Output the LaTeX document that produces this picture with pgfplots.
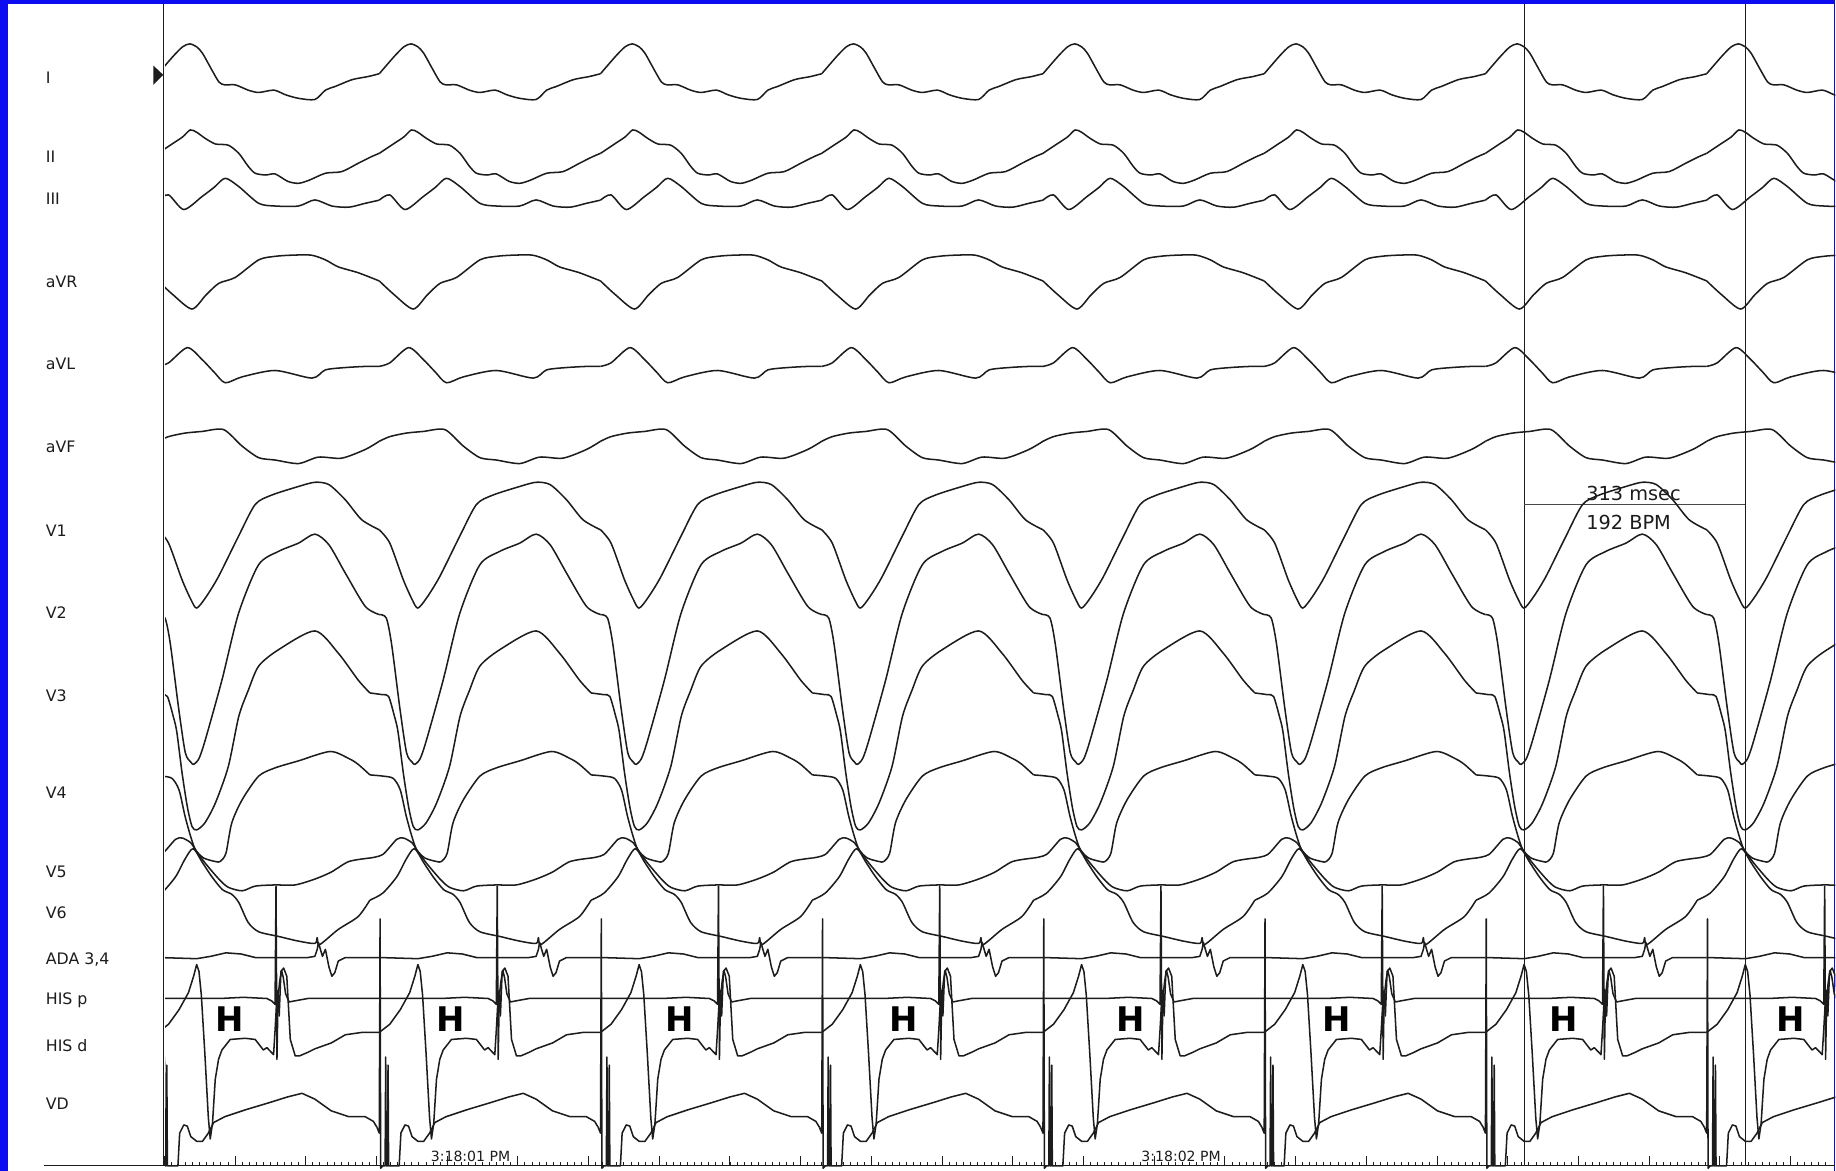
\documentclass[border=0pt]{standalone}
\usepackage{pgfplots}
\pgfplotsset{compat=1.18}
\usepackage{pgfplotstable}
\usepackage{fontspec}
\setmainfont{DejaVu Sans}
\definecolor{frameblue}{RGB}{12,12,240}
\definecolor{ink}{RGB}{28,28,28}
\tikzset{tr/.style={ink, line width=1.3pt, line join=round, mark=none},
         sm/.style={tr, smooth, tension=0.45}}

% one beat of each lead: x = offset (px) from the V1 nadir, y = vertical position (px, downward)
\pgfplotstableread{
x y
-33 63
-20 48
-12 40
-6 37.5
0 40
5 45.5
12 58
19 70
24 72.5
33 72.5
44 77
53 79
66 77
76 81
87 84
101 85
110 77
118 74
133 68
146 65.5
156 63
}\tI
\pgfplotstableread{
x y
-33 131
-21 123
-12 117
-5.5 111
0 113
7 118
16 123
27 124
36 131
44 142
50 148
59 149.5
67 148.6
78 155
87 156.6
96 154
110 148
124 146.6
138 139.5
149 134
156 131
}\tII
\pgfplotstableread{
x y
-33 171
-24 166.5
-11 179
4.5 168
15 160
24.4 152.3
36 159.4
53 173.7
67 176
87 176
101 170.8
115.5 176
130 177
144 173.7
156 171
}\tIII
\pgfplotstableread{
x y
-33 240
-20 252
-4 264
8 252
19 242
33 237
53 222
67 219
81 218
98 218
110 222
121 228
138 233
156 240
}\taVR
\pgfplotstableread{
x y
-33 313
-24 310
-8 297
4.5 307
15 318
24.4 327
38.7 322
67 316.5
98.5 323
110 316
127 314
145 313
156 313
}\taVL
\pgfplotstableread{
x y
-33 377
-24 373
-10 370
4.5 368.6
23 367
38.7 381
53 391
67 393
87 396
104 390.5
124 391.4
144 384
156 377
}\taVF
\pgfplotstableread{
x y
-33 452.6
-24 464
-12.6 495
-5 512
0 519.5
8 510
18.7 492.5
35.8 458
50 431
64 423
87 415.6
101 412
113 414
127 427
141 444
156 452.6
}\tVa
\pgfplotstableread{
x y
-33 525
-27 528
-22.5 550
-15.4 605
-9.7 643
-5 651
-2.6 653
2 648
7.4 632
21.6 581
35.8 524
52.9 482.5
70 471
87 464
101 456.3
113 465.4
127 489.6
144 518
156 525
}\tVb
\pgfplotstableread{
x y
-41 592
-30 593.5
-25 595
-20 612
-17 625
-12.5 660
-8 689
-4 706
0 709
7 703
16 686
27 655
36 612
44 590
53 569
70 555
101 539
121 558
138 581
148 592
}\tVc
\pgfplotstableread{
x y
-41 662
-30 663
-21 665
-15 675
-10 697
-5 715
-1 726
6 733
16 736
20 736
25 729
30 703
39 683
53 663
67 656
87 650
114 642
130 648
138 653
148 662
}\tVd
\pgfplotstableread{
x y
-41 733
-30 730
-18 717
-12 716
-5 720
-1 726
7 737
19 751
27 758
39 761
50 757
67 756
84 756
101 751
115 745
130 736
148 733
}\tVe
\pgfplotstableread{
x y
-41 769
-30 763
-18 749
-10 734
-3 725
5 737
13 749
22 760
30 764
36 771
44 788
53 796
70 800
87 804
101 806
103 801
105 807
121 794
138 783
148 769
}\tVf
\pgfplotstableread{
x y
-33 818
0 819
12 817
25 814
38 815
50 818
95 818
101 817
103 811
104 805
106 812
107.5 817
110 811
113 826
115.5 834
118 831
121 821
127 818
156 818
}\tADA
\pgfplotstableread{
x y
-33 853
20 853
40 852
60 853
64 855
67 858
67.8 757
68.6 905
69.5 852
71 838
72.5 829
74 835
76 849
79 856
84 855
95 853
156 853
}\tHp
\pgfplotstableread{
x y
-33 882
-24 875
-15 862.5
-7 848
-2.6 834
0 824
2 830
4 850
7 900
10 955
11.6 973
13.5 960
15.9 922
18.7 905
21.6 897
28.7 888
41.5 887
50 888
57 897
60 895
64.3 899.5
65.7 901
67 880
68.6 851
69.5 846
70.5 868
72 830
74.3 827
77 834
80 888
84.2 902
88 902
95 899
101 896
115 891
127 884
141 882
156 882
}\tHd
\pgfplotstableread{
x y
-35 963
-33 968
-32.3 785
-31.8 998
-30 996
-28 996
-27.5 903
-27 996
-26 996
-25.5 910
-25 996
-16 996
-14.5 968
-11 961
-8 962
-5 971
0 975
5 975
10 968
14.5 959
24 954
42 948
62 942
78 937
90 934
101 939
115 949
130 954
144 954
151 958
154 963
}\tVD

\begin{document}
\begin{tikzpicture}
\fill[frameblue] (0pt,0pt) rectangle (1568pt,1000pt);
\fill[white] (7pt,0pt) rectangle (1567pt,996.5pt);
\begin{scope}[x=1pt,y=-1pt,yshift=1000pt]
  % frame lines
  \draw[ink, line width=1pt] (140,3.5) -- (140,995.5);
  \draw[ink, line width=0.9pt] (1302,3.5) -- (1302,995.5);
  \draw[ink, line width=0.9pt] (1491,3.5) -- (1491,995.5);
  \draw[ink!80, line width=0.8pt] (1302,430.7) -- (1491,430.7);
  % time axis
  \draw[ink, line width=1pt] (38,995.5) -- (1568,995.5);
  \foreach \i in {0,...,235} \draw[ink, line width=0.55pt] ({140.3+6.04*\i},995.5) -- ++(0,-2.8);
  \foreach \i in {0,...,23} \draw[ink, line width=0.6pt] ({140.3+60.4*\i},995.5) -- ++(0,-8);
  % marker
  \fill[ink] (131,56) -- (139.5,64) -- (131,72.5) -- cycle;
  % lead labels
  \begin{scope}[every node/.style={anchor=base west, inner sep=0pt, text=ink, font=\fontsize{13.5}{16}\selectfont}]
    \node at (39,71) {I};
    \node at (39,139) {II};
    \node at (39,175) {III};
    \node at (39,246) {aVR};
    \node at (39,316) {aVL};
    \node at (39,387) {aVF};
    \node at (39,458) {V1};
    \node at (39,528) {V2};
    \node at (39,599) {V3};
    \node at (39,682) {V4};
    \node at (39,750) {V5};
    \node at (39,785) {V6};
    \node at (39,824) {ADA 3,4};
    \node at (39,858) {HIS p};
    \node at (39,898) {HIS d};
    \node at (39,948) {VD};
  \end{scope}
  % H markers
  \begin{scope}[every node/.style={anchor=center, inner sep=0pt, text=black, font=\fontsize{29}{32}\selectfont\bfseries}]
    \node at (196,871) {H};
    \node at (385,871) {H};
    \node at (581,871) {H};
    \node at (772,871) {H};
    \node at (966,871) {H};
    \node at (1142,871) {H};
    \node at (1336,871) {H};
    \node at (1530,871) {H};
  \end{scope}
  % caliper text
  \node[anchor=base west, inner sep=0pt, text=ink, font=\fontsize{16.5}{19}\selectfont] at (1355,428) {313 msec};
  \node[anchor=base west, inner sep=0pt, text=ink, font=\fontsize{16.5}{19}\selectfont] at (1355,452) {192 BPM};
  % time stamps
  \node[anchor=base, inner sep=0pt, text=ink, font=\fontsize{12}{14}\selectfont] at (402,992) {3:18:01 PM};
  \node[anchor=base, inner sep=0pt, text=ink, font=\fontsize{12}{14}\selectfont] at (1009,992) {3:18:02 PM};
\end{scope}
\begin{axis}[at={(141pt,0pt)}, anchor=south west, width=1427pt, height=1000pt,
  scale only axis, xmin=141, xmax=1568, ymin=0, ymax=1000, y dir=reverse,
  hide axis, clip=true]
\pgfplotsinvokeforeach{168,357,546,735,924,1113,1302,1491}{
  \addplot[sm] table[x expr=\thisrow{x}+#1, y=y]{\tI};
  \addplot[sm] table[x expr=\thisrow{x}+#1, y=y]{\tII};
  \addplot[sm] table[x expr=\thisrow{x}+#1, y=y]{\tIII};
  \addplot[sm] table[x expr=\thisrow{x}+#1, y=y]{\taVR};
  \addplot[sm] table[x expr=\thisrow{x}+#1, y=y]{\taVL};
  \addplot[sm] table[x expr=\thisrow{x}+#1, y=y]{\taVF};
  \addplot[sm] table[x expr=\thisrow{x}+#1, y=y]{\tVa};
  \addplot[sm] table[x expr=\thisrow{x}+#1, y=y]{\tVb};
  \addplot[sm] table[x expr=\thisrow{x}+#1, y=y]{\tVc};
  \addplot[sm] table[x expr=\thisrow{x}+#1, y=y]{\tVd};
  \addplot[sm] table[x expr=\thisrow{x}+#1, y=y]{\tVe};
  \addplot[sm] table[x expr=\thisrow{x}+#1, y=y]{\tVf};
  \addplot[tr] table[x expr=\thisrow{x}+#1, y=y]{\tADA};
  \addplot[tr] table[x expr=\thisrow{x}+#1, y=y]{\tHp};
  \addplot[tr] table[x expr=\thisrow{x}+#1, y=y]{\tHd};
  \addplot[tr] table[x expr=\thisrow{x}+#1, y=y]{\tVD};
}
\end{axis}
\end{tikzpicture}
\end{document}
